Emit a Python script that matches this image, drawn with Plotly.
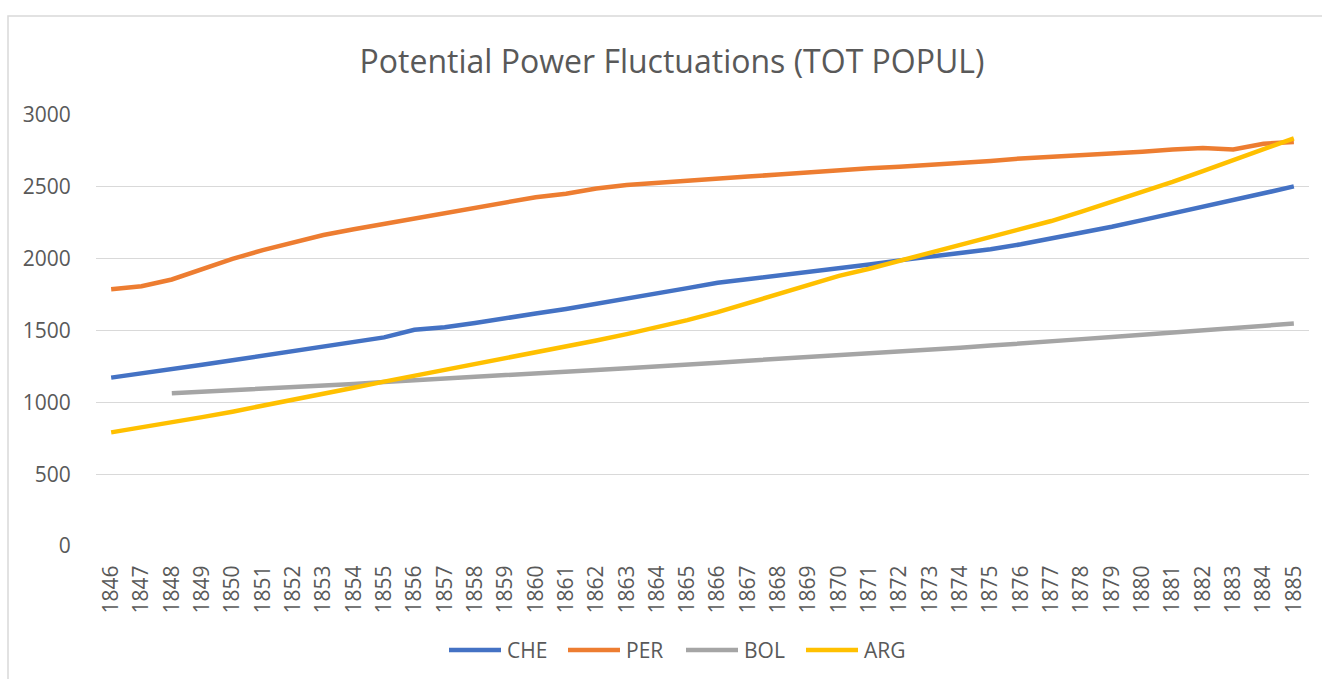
import plotly.graph_objects as go

years = [str(y) for y in range(1846, 1886)]

che = [1172, 1200, 1230, 1262, 1293, 1325, 1357, 1390, 1422, 1452,
       1505, 1522, 1552, 1582, 1618, 1650, 1688, 1725, 1758, 1795,
       1832, 1857, 1880, 1908, 1932, 1960, 1988, 2012, 2038, 2065,
       2100, 2140, 2180, 2222, 2268, 2313, 2360, 2407, 2455, 2503]

per = [1787, 1808, 1855, 1928, 1998, 2060, 2110, 2165, 2205, 2242,
       2285, 2322, 2360, 2398, 2428, 2452, 2488, 2512, 2528, 2545,
       2558, 2572, 2585, 2602, 2612, 2630, 2640, 2652, 2665, 2680,
       2698, 2708, 2722, 2732, 2745, 2760, 2770, 2760, 2800, 2812]

bol = [None, None, 1063, 1073, 1083, 1095, 1105, 1117, 1128, 1142,
       1153, 1165, 1177, 1188, 1198, 1210, 1225, 1238, 1248, 1262,
       1275, 1290, 1302, 1313, 1328, 1340, 1353, 1368, 1380, 1395,
       1408, 1425, 1440, 1455, 1470, 1485, 1502, 1518, 1532, 1548]

arg = [791, 825, 862, 897, 935, 975, 1018, 1060, 1102, 1144,
       1185, 1225, 1265, 1306, 1345, 1385, 1430, 1475, 1522, 1572,
       1628, 1690, 1755, 1820, 1880, 1930, 1985, 2040, 2095, 2148,
       2200, 2262, 2328, 2395, 2465, 2535, 2610, 2687, 2762, 2838]

series = [("CHE", che, "#4472C4"), ("PER", per, "#ED7D31"),
          ("BOL", bol, "#A5A5A5"), ("ARG", arg, "#FFC000")]

FONT = "Open Sans"
TXT = "#595959"

W, H = 1322, 679
L, R, T, B = 96, 13, 115, 133
pw, ph = W - L - R, H - T - B


def px_x(p):
    return (p - L) / pw


def px_y(p):
    return (H - B - p) / ph


fig = go.Figure()
for name, vals, color in series:
    fig.add_trace(go.Scatter(x=years, y=vals, name=name, mode="lines",
                             line=dict(color=color, width=4.5),
                             connectgaps=False, showlegend=False))

# Excel-style legend: long line samples followed by the series name
legend_starts = [447, 566, 684, 804]
shapes = [dict(type="rect", xref="paper", yref="paper",
               x0=px_x(8), x1=px_x(1340), y0=px_y(700), y1=px_y(16),
               line=dict(color="#D9D9D9", width=1.5),
               fillcolor="rgba(0,0,0,0)", layer="below")]
annotations = []
for (name, _, color), x0 in zip(series, legend_starts):
    shapes.append(dict(type="line", xref="paper", yref="paper",
                       x0=px_x(x0 + 2), x1=px_x(x0 + 54),
                       y0=px_y(650), y1=px_y(650),
                       line=dict(color=color, width=4.5)))
    annotations.append(dict(text=name, xref="paper", yref="paper",
                            x=px_x(x0 + 58), y=px_y(650),
                            xanchor="left", yanchor="middle",
                            showarrow=False,
                            font=dict(family=FONT, size=21, color=TXT)))

fig.update_layout(
    width=W, height=H,
    margin=dict(l=L, r=R, t=T, b=B),
    paper_bgcolor="white", plot_bgcolor="white",
    font=dict(family=FONT, size=21, color=TXT),
    title=dict(text="Potential Power Fluctuations (TOT POPUL)",
               font=dict(family=FONT, size=32, color=TXT),
               x=672 / W, xref="container", xanchor="center",
               y=1 - 62 / H, yref="container", yanchor="middle"),
    showlegend=False,
    xaxis=dict(type="category", range=[-0.5, len(years) - 0.5],
               tickangle=-90, showgrid=False,
               showline=False, zeroline=False,
               ticks="outside", ticklen=10, tickcolor="rgba(0,0,0,0)",
               tickfont=dict(family=FONT, size=21, color=TXT)),
    yaxis=dict(range=[0, 3000], dtick=500, tick0=0,
               showgrid=True, gridcolor="#D9D9D9", gridwidth=1.3,
               zeroline=False, showline=False,
               ticks="outside", ticklen=20, tickcolor="rgba(0,0,0,0)",
               tickfont=dict(family=FONT, size=21, color=TXT)),
    shapes=shapes,
    annotations=annotations,
)

fig.write_html("out.html",
               config={"displayModeBar": False},
               post_script="document.body.style.margin='0';document.body.style.overflow='hidden';")
